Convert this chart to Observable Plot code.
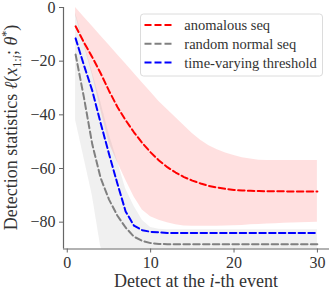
<!DOCTYPE html>
<html><head><meta charset="utf-8">
<script src="https://cdn.jsdelivr.net/npm/d3@7"></script>
<script src="https://cdn.jsdelivr.net/npm/@observablehq/plot@0.6"></script>
<style>
body{margin:0;background:#fff;}
#wrap{position:relative;width:332px;height:292px;}
</style></head>
<body><div id="wrap"></div>
<script>
// ---- data ----
const events = [1,2,3,4,5,6,7,8,9,10,11,12,13,14,15,16,17,18,19,20,21,22,23,24,25,26,27,28,29,30];

const anomMean  = [-7,-13,-18.5,-24.5,-31,-37,-42,-46.5,-50.5,-54,-57,-59.5,-61.5,-63.2,-64.5,-65.6,-66.5,-67.1,-67.6,-68,-68.2,-68.3,-68.4,-68.5,-68.5,-68.5,-68.6,-68.6,-68.6,-68.6];
const anomUpper = [0,-3.5,-7,-10.5,-14,-17.5,-21,-24.5,-28,-31.5,-35,-38,-41,-44,-47,-49.5,-51.5,-53,-54.2,-55.2,-56,-56.5,-56.9,-57,-57,-57,-57,-57,-57,-57];
const anomLower = [-3,-14,-25,-38,-50.5,-57.5,-64.2,-70.5,-75.5,-78,-79.3,-80.2,-81,-81.4,-81.5,-81.5,-81.5,-81.5,-81.4,-81.3,-81.2,-81,-80.9,-80.7,-80.6,-80.4,-80.3,-80.2,-80.1,-80];

const normMean  = [-17.5,-33.5,-51,-63.5,-71.5,-77.5,-82,-85.4,-87,-87.8,-88.1,-88.2,-88.2,-88.2,-88.2,-88.2,-88.2,-88.2,-88.2,-88.2,-88.2,-88.2,-88.2,-88.2,-88.2,-88.2,-88.2,-88.2,-88.2,-88.2];
const normUpper = [-2,-13,-24,-35,-47,-57,-67.5,-74,-79.3,-82,-82.6,-82.8,-82.8,-82.8,-82.8,-82.8,-82.8,-82.8,-82.8,-82.8,-82.8,-82.8,-82.8,-82.8,-82.8,-82.8,-82.8,-82.8,-82.8,-82.8];
const normLower = [-42,-56,-70,-89,-98,-97,-96,-95,-94.5,-94,-93.8,-93.7,-93.6,-93.6,-93.6,-93.6,-93.6,-93.6,-93.6,-93.6,-93.6,-93.6,-93.6,-93.6,-93.6,-93.6,-93.6,-93.6,-93.6,-93.6];

const threshold = [-11.5,-21.5,-31,-43,-54.5,-65.5,-76,-81.3,-83,-83.6,-83.8,-84,-84,-84,-84,-84,-84,-84,-84,-84,-84,-84,-84,-84,-84,-84,-84,-84,-84,-84];

const xTicks = [0,10,20,30];
const yTicks = [-80,-60,-40,-20,0];
const xDomain = [-0.45, 31.45];
const yDomain = [-90, 0];
const seriesNames = ["anomalous seq","random normal seq","time-varying threshold"];
const seriesColors = ["#ff0000","#808080","#0000ff"];

// ---- tables ----
const anom = events.map((e,k)=>({i:e, m:anomMean[k], lo:anomLower[k], hi:anomUpper[k]}));
const norm = events.map((e,k)=>({i:e, m:normMean[k], lo:normLower[k], hi:normUpper[k]}));
const thr  = events.map((e,k)=>({i:e, m:threshold[k]}));

const FONT = "Liberation Serif";
const TXT = "#333";
const AX = "#666";
const dash = "6.5,3.3";

const svg = Plot.plot({
  width: 332, height: 292,
  marginLeft: 63, marginRight: 3, marginTop: 7, marginBottom: 43.5,
  style: {fontFamily: FONT, background: "#fff"},
  x: {domain: xDomain, label: null},
  y: {domain: yDomain, label: null},
  marks: [
    Plot.areaY(anom, {x:"i", y1:"lo", y2:"hi", fill: seriesColors[0], fillOpacity: 0.12, clip: true}),
    Plot.areaY(norm, {x:"i", y1:"lo", y2:"hi", fill: seriesColors[1], fillOpacity: 0.12, clip: true}),
    Plot.lineY(anom, {x:"i", y:"m", stroke: seriesColors[0], strokeWidth: 2, strokeDasharray: dash}),
    Plot.lineY(norm, {x:"i", y:"m", stroke: seriesColors[1], strokeWidth: 2, strokeDasharray: dash}),
    Plot.lineY(thr,  {x:"i", y:"m", stroke: seriesColors[2], strokeWidth: 2, strokeDasharray: dash}),
    Plot.ruleX([xDomain[0]], {stroke: AX, strokeWidth: 1.2}),
    Plot.ruleY([yDomain[0]], {stroke: AX, strokeWidth: 1.2}),
    Plot.axisX({ticks: xTicks, tickSize: 4, tickPadding: 4, fontSize: 16, stroke: AX, fill: TXT, label: null}),
    Plot.axisY({ticks: yTicks, tickSize: 4, tickPadding: 4, fontSize: 16, stroke: AX, fill: TXT, label: null})
  ]
});
document.getElementById("wrap").appendChild(svg);

const S = d3.select(svg);

// x label
const xl = S.append("text").attr("x", 196).attr("y", 287).attr("text-anchor","middle")
  .attr("font-family", FONT).attr("font-size", 18).attr("fill", TXT);
xl.append("tspan").text("Detect at the ");
xl.append("tspan").attr("font-style","italic").text("i");
xl.append("tspan").text("-th event");

// y label
const yl = S.append("text").attr("transform","translate(17,127.5) rotate(-90)").attr("text-anchor","middle")
  .attr("font-family", FONT).attr("font-size", 18).attr("fill", TXT);
yl.append("tspan").text("Detection statistics ");
yl.append("tspan").attr("font-style","italic").text("ℓ");
yl.append("tspan").text("(");
yl.append("tspan").attr("font-style","italic").text("x");
yl.append("tspan").attr("font-size", 12).attr("dy", 3.5).text("1:");
yl.append("tspan").attr("font-size", 12).attr("font-style","italic").text("i");
yl.append("tspan").attr("dy", -3.5).text("; ");
yl.append("tspan").attr("font-style","italic").text("θ");
yl.append("tspan").attr("font-size", 12).attr("dy", -7).text("*");
yl.append("tspan").attr("dy", 7).text(")");

// legend
const L = S.append("g").attr("transform","translate(140.5,14)");
L.append("rect").attr("width",182).attr("height",62).attr("rx",3)
  .attr("fill","rgba(255,255,255,0.8)").attr("stroke","#dcdcdc").attr("stroke-width",1);
seriesNames.forEach((name, k) => {
  const cy = 11 + k*18.8;
  L.append("line").attr("x1",4).attr("x2",31).attr("y1",cy).attr("y2",cy)
    .attr("stroke", seriesColors[k]).attr("stroke-width",2).attr("stroke-dasharray","7,3");
  L.append("text").attr("x",43.8).attr("y",cy).attr("dy","0.35em").attr("text-anchor","start")
    .attr("font-family",FONT).attr("font-size",14.5).attr("fill",TXT).text(name);
});
</script>
</body></html>
